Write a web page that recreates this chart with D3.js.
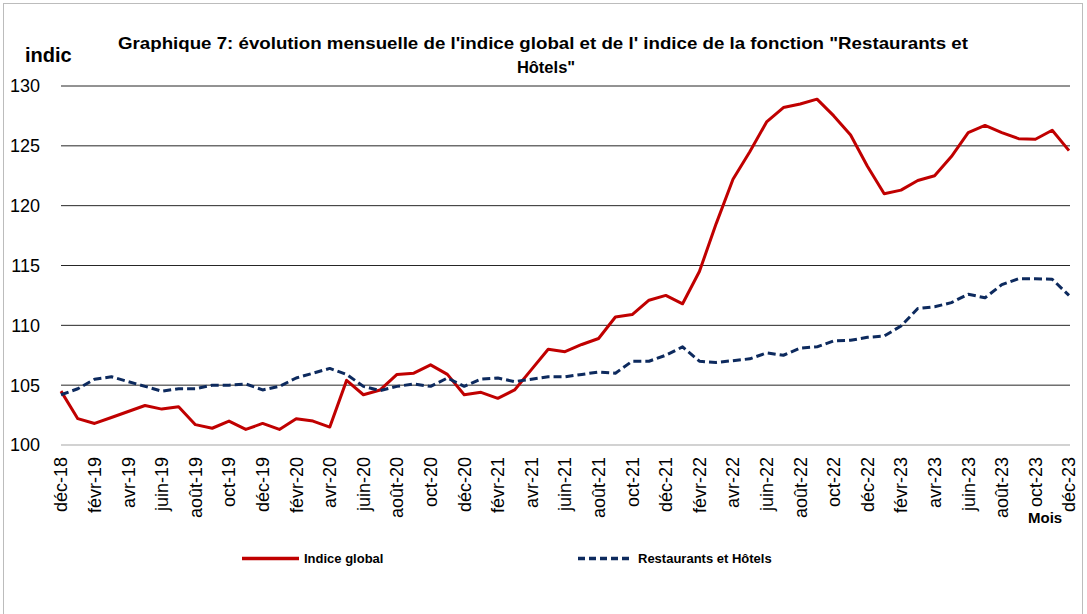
<!DOCTYPE html>
<html>
<head>
<meta charset="utf-8">
<script src="https://cdn.jsdelivr.net/npm/d3@7"></script>
<style>
  body { margin: 0; background: #fff; }
  text { font-family: "Liberation Sans", Arial, sans-serif; fill: #000; }
</style>
</head>
<body>
<svg id="chart" width="1087" height="614"></svg>
<script>
// months, déc-18 .. déc-23
const months = ["déc-18",
  "janv-19","févr-19","mars-19","avr-19","mai-19","juin-19","juil-19","août-19","sept-19","oct-19","nov-19","déc-19",
  "janv-20","févr-20","mars-20","avr-20","mai-20","juin-20","juil-20","août-20","sept-20","oct-20","nov-20","déc-20",
  "janv-21","févr-21","mars-21","avr-21","mai-21","juin-21","juil-21","août-21","sept-21","oct-21","nov-21","déc-21",
  "janv-22","févr-22","mars-22","avr-22","mai-22","juin-22","juil-22","août-22","sept-22","oct-22","nov-22","déc-22",
  "janv-23","févr-23","mars-23","avr-23","mai-23","juin-23","juil-23","août-23","sept-23","oct-23","nov-23","déc-23"];

const indiceGlobal = [104.5,
  102.2,101.8,102.3,102.8,103.3,103.0,103.2,101.7,101.4,102.0,101.3,101.8,
  101.3,102.2,102.0,101.5,105.4,104.2,104.6,105.9,106.0,106.7,105.9,104.2,
  104.4,103.9,104.6,106.3,108.0,107.8,108.4,108.9,110.7,110.9,112.1,112.5,
  111.8,114.5,118.5,122.2,124.5,127.0,128.2,128.5,128.9,127.5,125.9,123.3,
  121.0,121.3,122.1,122.5,124.1,126.1,126.7,126.1,125.6,125.55,126.3,124.6];

const restaurantsHotels = [104.2,
  104.7,105.5,105.7,105.3,104.9,104.5,104.7,104.7,105.0,105.0,105.1,104.6,
  104.9,105.6,106.0,106.4,105.9,104.9,104.55,104.9,105.1,104.9,105.6,104.9,
  105.5,105.6,105.3,105.5,105.7,105.7,105.9,106.1,106.0,107.0,107.0,107.5,
  108.2,107.0,106.9,107.05,107.2,107.7,107.5,108.1,108.2,108.7,108.75,109.0,
  109.1,109.95,111.4,111.55,111.9,112.6,112.3,113.4,113.9,113.9,113.85,112.5];

const yTicks = [100, 105, 110, 115, 120, 125, 130];

const series = [
  { name: "Indice global", values: indiceGlobal, color: "#c00000", dash: null },
  { name: "Restaurants et Hôtels", values: restaurantsHotels, color: "#0d2a5e", dash: "8,4" }
];

const svg = d3.select("#chart");

// outer frame
svg.append("rect")
  .attr("x", 3.5).attr("y", 3.5)
  .attr("width", 1079).attr("height", 640)
  .attr("fill", "none").attr("stroke", "#bcbcbc");

const x = d3.scalePoint().domain(months).range([61, 1069]);
const y = d3.scaleLinear().domain([100, 130]).range([445, 86]);

// gridlines
svg.append("g").selectAll("line")
  .data(yTicks)
  .join("line")
  .attr("x1", 61).attr("x2", 1070)
  .attr("y1", d => y(d)).attr("y2", d => y(d))
  .attr("stroke", d => d === 100 ? "#a6a6a6" : "#262626")
  .attr("stroke-width", d => d === 100 ? 1.2 : 1);

// y labels
svg.append("g").selectAll("text")
  .data(yTicks)
  .join("text")
  .attr("x", 40).attr("y", d => y(d))
  .attr("dy", "0.36em")
  .attr("text-anchor", "end")
  .style("font-size", "18px")
  .text(d => d);

// x labels, every second month
svg.append("g").selectAll("text")
  .data(months.filter((m, i) => i % 2 === 0))
  .join("text")
  .attr("transform", d => `translate(${x(d)},457) rotate(-90)`)
  .attr("dy", "0.36em")
  .attr("text-anchor", "end")
  .style("font-size", "18px")
  .text(d => d);

// lines
const line = d3.line()
  .x((d, i) => x(months[i]))
  .y(d => y(d));

svg.append("g").selectAll("path")
  .data(series)
  .join("path")
  .attr("d", d => line(d.values))
  .attr("fill", "none")
  .attr("stroke", d => d.color)
  .attr("stroke-width", 3)
  .attr("stroke-dasharray", d => d.dash)
  .attr("stroke-linejoin", "round");

// titles
svg.append("text")
  .attr("x", 543).attr("y", 49)
  .attr("text-anchor", "middle")
  .attr("textLength", 850).attr("lengthAdjust", "spacingAndGlyphs")
  .style("font-size", "16.5px").style("font-weight", "bold")
  .text("Graphique 7: évolution mensuelle de l'indice global et de l' indice de la fonction \"Restaurants et");
svg.append("text")
  .attr("x", 546).attr("y", 73)
  .attr("text-anchor", "middle")
  .style("font-size", "16.5px").style("font-weight", "bold")
  .text("Hôtels\"");

svg.append("text")
  .attr("x", 25).attr("y", 62)
  .style("font-size", "20px").style("font-weight", "bold")
  .text("indic");

svg.append("text")
  .attr("x", 1028).attr("y", 523)
  .style("font-size", "15px").style("font-weight", "bold")
  .text("Mois");

// legend
const legend = svg.append("g").selectAll("g")
  .data(series)
  .join("g")
  .attr("transform", (d, i) => `translate(${i === 0 ? 242 : 578},558.5)`);

legend.append("line")
  .attr("x1", 0).attr("x2", d => d.dash ? 55 : 57)
  .attr("stroke", d => d.color)
  .attr("stroke-width", 3.5)
  .attr("stroke-dasharray", d => d.dash ? "7,4" : null);

legend.append("text")
  .attr("x", d => d.dash ? 60 : 62).attr("dy", "0.35em")
  .style("font-size", "13px").style("font-weight", "bold")
  .text(d => d.name);
</script>
</body>
</html>
